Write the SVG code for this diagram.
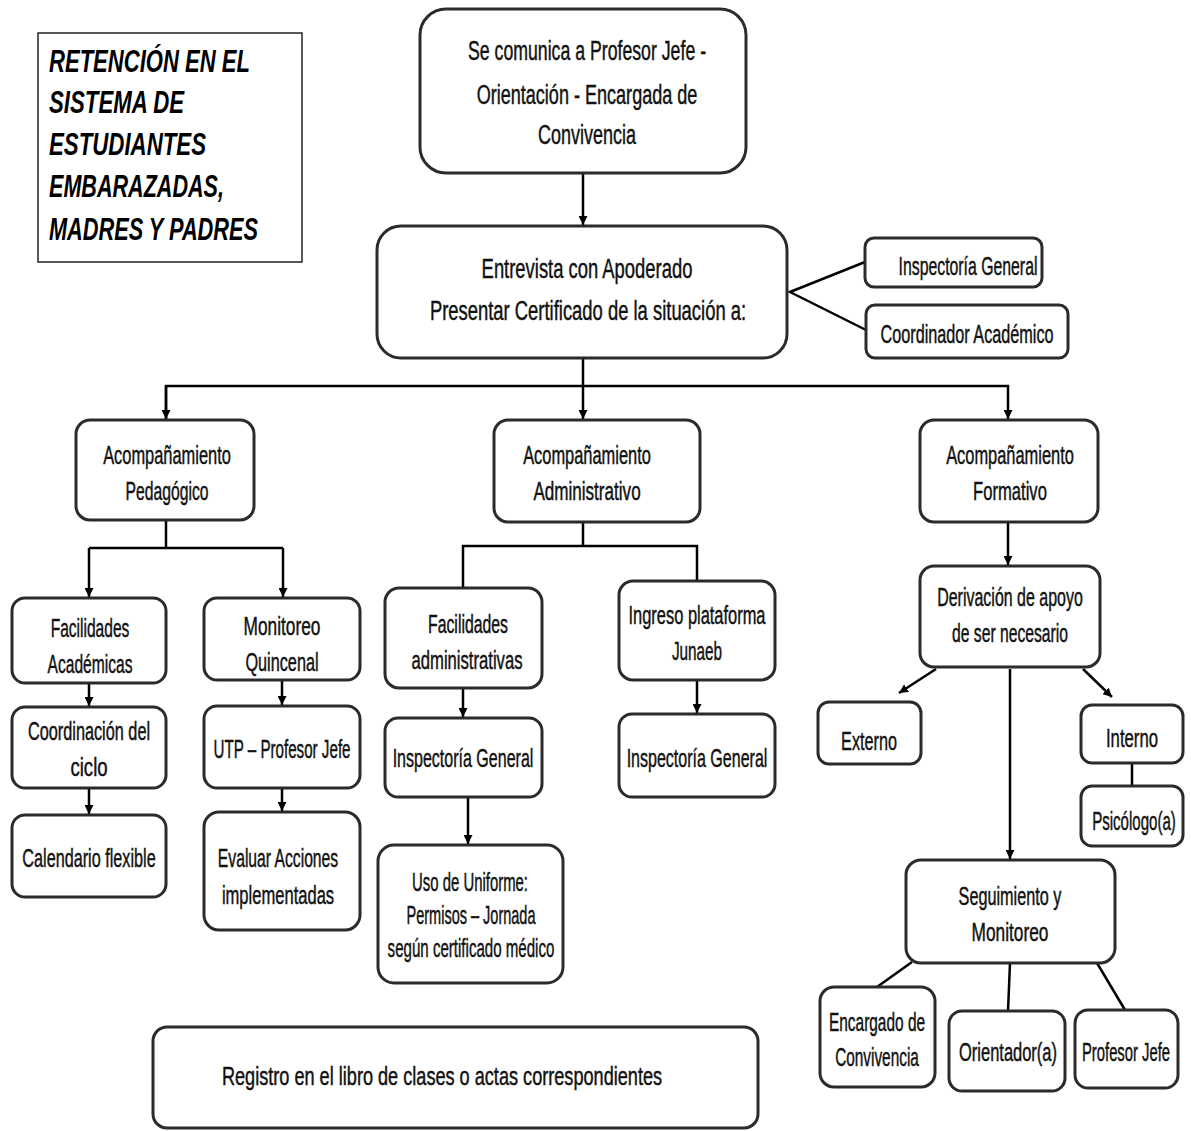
<svg xmlns="http://www.w3.org/2000/svg" width="1191" height="1131" viewBox="0 0 1191 1131">
<style>
.box{fill:#fff;stroke:#2b2b2b;stroke-width:3}
.t{font-family:"Liberation Sans",Arial,sans-serif;font-size:25px;fill:#111;stroke:#111;stroke-width:0.45;text-anchor:middle}
.tl{font-size:27px}
.title{font-family:"Liberation Sans",Arial,sans-serif;font-size:32px;font-weight:bold;font-style:italic;fill:#000}
.c{fill:none;stroke:#000;stroke-width:2.5}
</style>
<defs>
<marker id="ah" viewBox="0 0 10 10" refX="10" refY="5" markerWidth="9" markerHeight="9" markerUnits="userSpaceOnUse" orient="auto">
<path d="M0,0 L10,5 L0,10 z" fill="#000"/>
</marker>
</defs>
<rect width="1191" height="1131" fill="#fff"/>

<g id="connectors">
<line class="c" x1="583" y1="173" x2="583" y2="225" marker-end="url(#ah)"/>
<polyline class="c" points="865,262 790,292 866,330"/>
<line class="c" x1="583" y1="358" x2="583" y2="419" marker-end="url(#ah)"/>
<polyline class="c" points="166,419 166,386 1008,386 1008,419" marker-end="url(#ah)"/>
<line class="c" x1="166" y1="386" x2="166" y2="419" marker-end="url(#ah)"/>
<line class="c" x1="166" y1="520" x2="166" y2="548"/>
<line class="c" x1="89" y1="548" x2="283" y2="548"/>
<line class="c" x1="89" y1="548" x2="89" y2="597" marker-end="url(#ah)"/>
<line class="c" x1="283" y1="548" x2="283" y2="597" marker-end="url(#ah)"/>
<line class="c" x1="89" y1="683" x2="89" y2="706" marker-end="url(#ah)"/>
<line class="c" x1="89" y1="788" x2="89" y2="814" marker-end="url(#ah)"/>
<line class="c" x1="282" y1="680" x2="282" y2="705" marker-end="url(#ah)"/>
<line class="c" x1="282" y1="788" x2="282" y2="811" marker-end="url(#ah)"/>
<line class="c" x1="583" y1="522" x2="583" y2="546"/>
<polyline class="c" points="463,588 463,546 697,546 697,581"/>
<line class="c" x1="463" y1="688" x2="463" y2="717" marker-end="url(#ah)"/>
<line class="c" x1="468" y1="797" x2="468" y2="844" marker-end="url(#ah)"/>
<line class="c" x1="697" y1="680" x2="697" y2="713" marker-end="url(#ah)"/>
<line class="c" x1="1008" y1="522" x2="1008" y2="565" marker-end="url(#ah)"/>
<line class="c" x1="936" y1="669" x2="899" y2="693" marker-end="url(#ah)"/>
<line class="c" x1="1083" y1="669" x2="1112" y2="697" marker-end="url(#ah)"/>
<line class="c" x1="1010" y1="669" x2="1010" y2="859" marker-end="url(#ah)"/>
<line class="c" x1="1132" y1="763" x2="1132" y2="786"/>
<line class="c" x1="912" y1="962" x2="877" y2="987"/>
<line class="c" x1="1010" y1="963" x2="1008" y2="1011"/>
<line class="c" x1="1097" y1="963" x2="1125" y2="1010"/>
</g>

<g id="title">
<rect x="38" y="33" width="264" height="229" fill="#fff" stroke="#222" stroke-width="1.5"/>
<text class="title" x="49" y="72" textLength="201" lengthAdjust="spacingAndGlyphs">RETENCIÓN EN EL</text>
<text class="title" x="49" y="113" textLength="135" lengthAdjust="spacingAndGlyphs">SISTEMA DE</text>
<text class="title" x="49" y="155" textLength="157" lengthAdjust="spacingAndGlyphs">ESTUDIANTES</text>
<text class="title" x="49" y="197" textLength="175" lengthAdjust="spacingAndGlyphs">EMBARAZADAS,</text>
<text class="title" x="49" y="240" textLength="209" lengthAdjust="spacingAndGlyphs">MADRES Y PADRES</text>
</g>

<g id="n-comunica">
<rect class="box" x="420" y="9" width="326" height="164" rx="26"/>
<text class="t tl" transform="translate(587,60) scale(0.62,1)" textLength="384" lengthAdjust="spacingAndGlyphs">Se comunica a Profesor Jefe -</text>
<text class="t tl" transform="translate(587,104) scale(0.62,1)" textLength="356" lengthAdjust="spacingAndGlyphs">Orientación - Encargada de</text>
<text class="t tl" transform="translate(587,144) scale(0.62,1)" textLength="158" lengthAdjust="spacingAndGlyphs">Convivencia</text>
</g>

<g id="n-entrevista">
<rect class="box" x="377" y="226" width="410" height="132" rx="24"/>
<text class="t tl" transform="translate(587,278) scale(0.62,1)" textLength="340" lengthAdjust="spacingAndGlyphs">Entrevista con Apoderado</text>
<text class="t tl" transform="translate(588,320) scale(0.62,1)" textLength="510" lengthAdjust="spacingAndGlyphs">Presentar Certificado de la situación a:</text>
</g>

<g id="n-inspectoria-top">
<rect class="box" x="865" y="238" width="177" height="49" rx="9"/>
<text class="t" transform="translate(968,275) scale(0.62,1)" textLength="224" lengthAdjust="spacingAndGlyphs">Inspectoría General</text>
</g>

<g id="n-coordinador">
<rect class="box" x="866" y="305" width="202" height="53" rx="9"/>
<text class="t" transform="translate(967,343) scale(0.62,1)" textLength="279" lengthAdjust="spacingAndGlyphs">Coordinador Académico</text>
</g>

<g id="n-pedagogico">
<rect class="box" x="76" y="420" width="178" height="100" rx="14"/>
<text class="t" transform="translate(167,464) scale(0.62,1)" textLength="206" lengthAdjust="spacingAndGlyphs">Acompañamiento</text>
<text class="t" transform="translate(167,500) scale(0.62,1)" textLength="134" lengthAdjust="spacingAndGlyphs">Pedagógico</text>
</g>

<g id="n-administrativo">
<rect class="box" x="494" y="420" width="206" height="102" rx="14"/>
<text class="t" transform="translate(587,464) scale(0.62,1)" textLength="206" lengthAdjust="spacingAndGlyphs">Acompañamiento</text>
<text class="t" transform="translate(587,500) scale(0.62,1)" textLength="173" lengthAdjust="spacingAndGlyphs">Administrativo</text>
</g>

<g id="n-formativo">
<rect class="box" x="920" y="420" width="178" height="102" rx="14"/>
<text class="t" transform="translate(1010,464) scale(0.62,1)" textLength="206" lengthAdjust="spacingAndGlyphs">Acompañamiento</text>
<text class="t" transform="translate(1010,500) scale(0.62,1)" textLength="119" lengthAdjust="spacingAndGlyphs">Formativo</text>
</g>

<g id="n-fac-academicas">
<rect class="box" x="12" y="598" width="154" height="85" rx="13"/>
<text class="t" transform="translate(90,637) scale(0.62,1)" textLength="127" lengthAdjust="spacingAndGlyphs">Facilidades</text>
<text class="t" transform="translate(90,673) scale(0.62,1)" textLength="137" lengthAdjust="spacingAndGlyphs">Académicas</text>
</g>

<g id="n-monitoreo-q">
<rect class="box" x="204" y="598" width="156" height="82" rx="13"/>
<text class="t" transform="translate(282,635) scale(0.62,1)" textLength="124" lengthAdjust="spacingAndGlyphs">Monitoreo</text>
<text class="t" transform="translate(282,671) scale(0.62,1)" textLength="118" lengthAdjust="spacingAndGlyphs">Quincenal</text>
</g>

<g id="n-coord-ciclo">
<rect class="box" x="12" y="707" width="154" height="81" rx="13"/>
<text class="t" transform="translate(89,740) scale(0.62,1)" textLength="197" lengthAdjust="spacingAndGlyphs">Coordinación del</text>
<text class="t" transform="translate(89,776) scale(0.62,1)" textLength="60" lengthAdjust="spacingAndGlyphs">ciclo</text>
</g>

<g id="n-calendario">
<rect class="box" x="12" y="815" width="154" height="82" rx="13"/>
<text class="t" transform="translate(89,867) scale(0.62,1)" textLength="215" lengthAdjust="spacingAndGlyphs">Calendario flexible</text>
</g>

<g id="n-utp">
<rect class="box" x="204" y="706" width="156" height="82" rx="13"/>
<text class="t" transform="translate(282,758) scale(0.62,1)" textLength="221" lengthAdjust="spacingAndGlyphs">UTP – Profesor Jefe</text>
</g>

<g id="n-evaluar">
<rect class="box" x="204" y="812" width="156" height="118" rx="15"/>
<text class="t" transform="translate(278,867) scale(0.62,1)" textLength="194" lengthAdjust="spacingAndGlyphs">Evaluar Acciones</text>
<text class="t" transform="translate(278,904) scale(0.62,1)" textLength="181" lengthAdjust="spacingAndGlyphs">implementadas</text>
</g>

<g id="n-fac-admin">
<rect class="box" x="385" y="588" width="157" height="100" rx="14"/>
<text class="t" transform="translate(468,633) scale(0.62,1)" textLength="129" lengthAdjust="spacingAndGlyphs">Facilidades</text>
<text class="t" transform="translate(467,669) scale(0.62,1)" textLength="179" lengthAdjust="spacingAndGlyphs">administrativas</text>
</g>

<g id="n-insp-admin">
<rect class="box" x="385" y="718" width="157" height="79" rx="13"/>
<text class="t" transform="translate(463,767) scale(0.62,1)" textLength="227" lengthAdjust="spacingAndGlyphs">Inspectoría General</text>
</g>

<g id="n-uniforme">
<rect class="box" x="378" y="845" width="185" height="138" rx="16"/>
<text class="t" transform="translate(470,891) scale(0.62,1)" textLength="187" lengthAdjust="spacingAndGlyphs">Uso de Uniforme:</text>
<text class="t" transform="translate(471,924) scale(0.62,1)" textLength="208" lengthAdjust="spacingAndGlyphs">Permisos – Jornada</text>
<text class="t" transform="translate(471,957) scale(0.62,1)" textLength="269" lengthAdjust="spacingAndGlyphs">según certificado médico</text>
</g>

<g id="n-junaeb">
<rect class="box" x="619" y="581" width="156" height="99" rx="14"/>
<text class="t" transform="translate(697,624) scale(0.62,1)" textLength="221" lengthAdjust="spacingAndGlyphs">Ingreso plataforma</text>
<text class="t" transform="translate(697,660) scale(0.62,1)" textLength="81" lengthAdjust="spacingAndGlyphs">Junaeb</text>
</g>

<g id="n-insp-junaeb">
<rect class="box" x="619" y="714" width="156" height="83" rx="13"/>
<text class="t" transform="translate(697,767) scale(0.62,1)" textLength="227" lengthAdjust="spacingAndGlyphs">Inspectoría General</text>
</g>

<g id="n-derivacion">
<rect class="box" x="920" y="566" width="180" height="101" rx="14"/>
<text class="t" transform="translate(1010,606) scale(0.62,1)" textLength="235" lengthAdjust="spacingAndGlyphs">Derivación de apoyo</text>
<text class="t" transform="translate(1010,642) scale(0.62,1)" textLength="187" lengthAdjust="spacingAndGlyphs">de ser necesario</text>
</g>

<g id="n-externo">
<rect class="box" x="818" y="702" width="103" height="62" rx="11"/>
<text class="t" transform="translate(869,750) scale(0.62,1)" textLength="90" lengthAdjust="spacingAndGlyphs">Externo</text>
</g>

<g id="n-interno">
<rect class="box" x="1081" y="705" width="102" height="58" rx="11"/>
<text class="t" transform="translate(1132,747) scale(0.62,1)" textLength="84" lengthAdjust="spacingAndGlyphs">Interno</text>
</g>

<g id="n-psicologo">
<rect class="box" x="1081" y="786" width="102" height="60" rx="11"/>
<text class="t" transform="translate(1134,830) scale(0.62,1)" textLength="135" lengthAdjust="spacingAndGlyphs">Psicólogo(a)</text>
</g>

<g id="n-seguimiento">
<rect class="box" x="906" y="860" width="209" height="103" rx="15"/>
<text class="t" transform="translate(1010,905) scale(0.62,1)" textLength="166" lengthAdjust="spacingAndGlyphs">Seguimiento y</text>
<text class="t" transform="translate(1010,941) scale(0.62,1)" textLength="124" lengthAdjust="spacingAndGlyphs">Monitoreo</text>
</g>

<g id="n-encargado">
<rect class="box" x="820" y="987" width="115" height="100" rx="14"/>
<text class="t" transform="translate(877,1031) scale(0.62,1)" textLength="155" lengthAdjust="spacingAndGlyphs">Encargado de</text>
<text class="t" transform="translate(877,1066) scale(0.62,1)" textLength="135" lengthAdjust="spacingAndGlyphs">Convivencia</text>
</g>

<g id="n-orientador">
<rect class="box" x="949" y="1011" width="116" height="80" rx="13"/>
<text class="t" transform="translate(1008,1061) scale(0.62,1)" textLength="158" lengthAdjust="spacingAndGlyphs">Orientador(a)</text>
</g>

<g id="n-profesor">
<rect class="box" x="1075" y="1010" width="103" height="78" rx="13"/>
<text class="t" transform="translate(1126,1061) scale(0.62,1)" textLength="142" lengthAdjust="spacingAndGlyphs">Profesor Jefe</text>
</g>

<g id="n-registro">
<rect class="box" x="153" y="1027" width="605" height="101" rx="14" stroke="#000" stroke-width="3.5"/>
<text class="t" transform="translate(442,1085) scale(0.62,1)" textLength="710" lengthAdjust="spacingAndGlyphs">Registro en el libro de clases o actas correspondientes</text>
</g>
</svg>
